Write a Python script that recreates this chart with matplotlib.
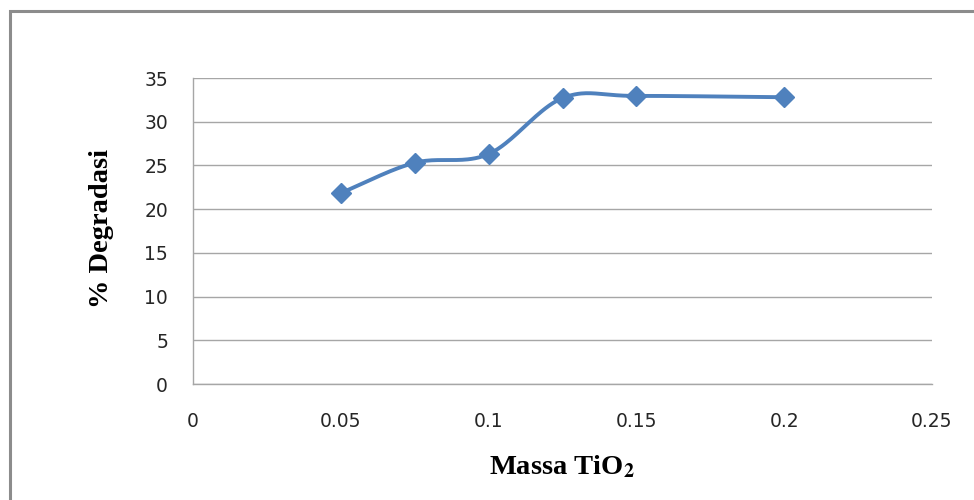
import numpy as np
import matplotlib
matplotlib.use("Agg")
import matplotlib.pyplot as plt
from matplotlib.patches import Rectangle

# Photocatalyst mass (g) vs. degradation percentage
massa_tio2 = [0.05, 0.075, 0.1, 0.125, 0.15, 0.2]
degradasi = [21.85, 25.3, 26.3, 32.7, 32.95, 32.8]

x_ticks = [0, 0.05, 0.1, 0.15, 0.2, 0.25]
x_tick_labels = ["0", "0.05", "0.1", "0.15", "0.2", "0.25"]
y_ticks = [0, 5, 10, 15, 20, 25, 30, 35]

line_color = "#4F81BD"
grid_color = "#A6A6A6"

plt.rcParams["mathtext.fontset"] = "stix"


def smooth_curve(x, y, n=40):
    """Catmull-Rom style smoothing through the data points."""
    x = np.asarray(x, float)
    y = np.asarray(y, float)
    px = np.concatenate([[2 * x[0] - x[1]], x, [2 * x[-1] - x[-2]]])
    py = np.concatenate([[2 * y[0] - y[1]], y, [2 * y[-1] - y[-2]]])
    xs, ys = [], []
    t = np.linspace(0, 1, n)
    for i in range(1, len(px) - 2):
        p0, p1, p2, p3 = (np.array([px[j], py[j]]) for j in range(i - 1, i + 3))
        c1 = p1 + (p2 - p0) / 6.0
        c2 = p2 - (p3 - p1) / 6.0
        tt = t[:, None]
        pts = ((1 - tt) ** 3) * p1 + 3 * ((1 - tt) ** 2) * tt * c1 \
            + 3 * (1 - tt) * tt ** 2 * c2 + tt ** 3 * p2
        xs.extend(pts[:, 0])
        ys.extend(pts[:, 1])
    return np.array(xs), np.array(ys)


fig = plt.figure(figsize=(9.74, 5.0), dpi=100)
fig.patch.set_facecolor("white")

# chart frame
fig.patches.append(Rectangle((10 / 974, -0.05), 1.1, 1 - 11 / 500 + 0.05,
                             transform=fig.transFigure, fill=False,
                             edgecolor="#8C8C8C", linewidth=2.2, zorder=0))

ax = fig.add_axes([193 / 974, 1 - 384 / 500, (932 - 193) / 974, (384 - 78) / 500])
ax.set_xlim(0, 0.25)
ax.set_ylim(0, 35)
ax.set_xticks(x_ticks)
ax.set_xticklabels(x_tick_labels)
ax.set_yticks(y_ticks)

for s in ["top", "right"]:
    ax.spines[s].set_visible(False)
for s in ["left", "bottom"]:
    ax.spines[s].set_color(grid_color)
    ax.spines[s].set_linewidth(1.0)

ax.yaxis.grid(True, color=grid_color, linewidth=1.0)
ax.set_axisbelow(True)
ax.tick_params(axis="both", length=0, labelsize=13.5, labelcolor="#262626")
ax.tick_params(axis="y", pad=18)
ax.tick_params(axis="x", pad=20)
for lab in ax.get_xticklabels() + ax.get_yticklabels():
    lab.set_fontfamily("DejaVu Sans")

sx, sy = smooth_curve(massa_tio2, degradasi)
ax.plot(sx, sy, color=line_color, linewidth=2.8, solid_capstyle="round", zorder=3)
ax.plot(massa_tio2, degradasi, linestyle="none", marker="D", markersize=10,
        color=line_color, markeredgecolor=line_color, zorder=4)

fig.text(562 / 974, 1 - 467 / 500, r"Massa TiO$_\mathbf{2}$", ha="center", va="center",
         fontfamily="Liberation Serif", fontweight="bold", fontsize=20.5)
fig.text(102 / 974, 1 - 228 / 500, "% Degradasi", ha="center", va="center",
         rotation=90, fontfamily="Liberation Serif", fontweight="bold", fontsize=20.5)

fig.savefig("out.png", dpi=100)
